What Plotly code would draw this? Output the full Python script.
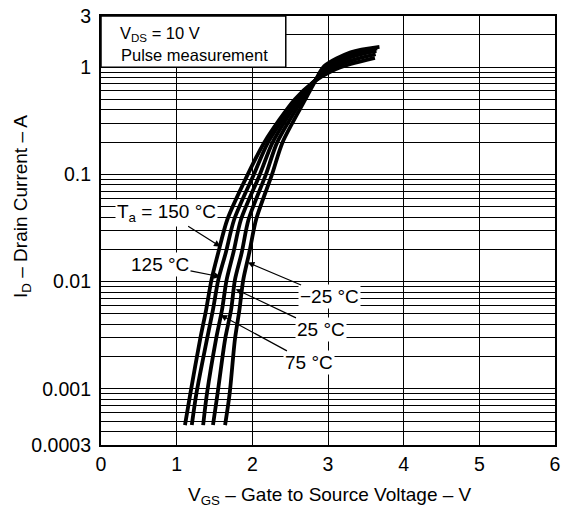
import math
import plotly.graph_objects as go

# ---- data ----
temps = ["150 °C", "125 °C", "75 °C", "25 °C", "−25 °C"]

id_levels = [0.00046, 0.0009, 0.0029, 0.0055, 0.0104, 0.0187, 0.038, 0.1, 0.2, 0.5]

vgs_150 = [1.11, 1.18, 1.31, 1.39, 1.46, 1.55, 1.67, 1.94, 2.16, 2.56, 2.80, 3.05, 3.30, 3.62]
id_150 = id_levels + [0.72, 0.92, 1.07, 1.22]

vgs_125 = [1.20, 1.26, 1.40, 1.48, 1.55, 1.65, 1.76, 2.02, 2.21, 2.59, 2.80, 3.03, 3.30, 3.63]
id_125 = id_levels + [0.72, 0.95, 1.15, 1.32]

vgs_75 = [1.35, 1.40, 1.52, 1.60, 1.66, 1.75, 1.85, 2.10, 2.27, 2.62, 2.81, 3.00, 3.30, 3.64]
id_75 = id_levels + [0.72, 0.98, 1.24, 1.42]

vgs_25 = [1.48, 1.54, 1.64, 1.72, 1.77, 1.86, 1.95, 2.18, 2.33, 2.66, 2.81, 2.98, 3.30, 3.65]
id_25 = id_levels + [0.72, 1.0, 1.32, 1.5]

vgs_m25 = [1.64, 1.70, 1.77, 1.83, 1.88, 1.96, 2.05, 2.26, 2.40, 2.70, 2.82, 2.95, 3.30, 3.68]
id_m25 = id_levels + [0.72, 1.02, 1.38, 1.55]

x_ticks = [0, 1, 2, 3, 4, 5, 6]
y_labels = {0.0003: "0.0003", 0.001: "0.001", 0.01: "0.01", 0.1: "0.1", 1: "1", 3: "3"}
y_grid = ([m * 1e-4 for m in range(3, 10)] + [m * 1e-3 for m in range(1, 10)]
          + [m * 1e-2 for m in range(1, 10)] + [m * 1e-1 for m in range(1, 10)] + [1, 2, 3])

# label text, text position (V, A), arrow tip (V, A)
labels = [
    ("T<sub>a</sub> = 150 °C", (0.87, 0.044), (1.58, 0.0212)),
    ("125 °C", (0.78, 0.0144), (1.58, 0.0111)),
    ("−25 °C", (3.02, 0.0072), (1.94, 0.0151)),
    ("25 °C", (2.91, 0.00355), (1.78, 0.0085)),
    ("75 °C", (2.75, 0.00175), (1.58, 0.0049)),
]

FONT = "Liberation Sans, Arial, sans-serif"

fig = go.Figure()
for name, xs, ys in zip(temps,
                        [vgs_150, vgs_125, vgs_75, vgs_25, vgs_m25],
                        [id_150, id_125, id_75, id_25, id_m25]):
    fig.add_trace(go.Scatter(x=xs, y=ys, mode="lines", name=name,
                             line=dict(color="black", width=3.8, shape="spline", smoothing=0.8)))

tickvals = y_grid
ticktext = []
for v in y_grid:
    t = ""
    for k, s in y_labels.items():
        if abs(math.log10(v) - math.log10(k)) < 1e-6:
            t = s
    ticktext.append(t)

fig.update_layout(
    width=565, height=517,
    margin=dict(l=101, r=10, t=16, b=72),
    paper_bgcolor="white", plot_bgcolor="white",
    showlegend=False,
    font=dict(family=FONT, color="black", size=18),
    xaxis=dict(range=[0, 6], tickvals=x_ticks, ticktext=[str(v) for v in x_ticks],
               showgrid=True, gridcolor="black", gridwidth=1.3, zeroline=False,
               showline=True, linecolor="black", linewidth=2.2, mirror=True, automargin=False,
               ticks="", ticklabeloverflow="allow",
               tickfont=dict(size=19.5, family=FONT, color="black")),
    yaxis=dict(type="log", range=[math.log10(0.0003), math.log10(3)],
               tickvals=tickvals, ticktext=ticktext, automargin=False,
               showgrid=True, gridcolor="black", gridwidth=1.2, zeroline=False,
               showline=True, linecolor="black", linewidth=2.2, mirror=True,
               ticks="", ticklabeloverflow="allow", ticklabelstandoff=4,
               tickfont=dict(size=19.5, family=FONT, color="black")),
)

# condition box (top-left)
fig.add_shape(type="rect", xref="paper", yref="paper", x0=0, x1=0.407, y0=0.8808, y1=1,
              fillcolor="white", line=dict(color="black", width=1.5), layer="above")
fig.add_annotation(xref="paper", yref="paper", x=0.037, y=0.958, xanchor="left", yanchor="middle",
                   text="V<sub>DS</sub> = 10 V", showarrow=False, font=dict(size=16.5, family=FONT))
fig.add_annotation(xref="paper", yref="paper", x=0.04, y=0.908, xanchor="left", yanchor="middle",
                   text="Pulse measurement", showarrow=False, font=dict(size=16.5, family=FONT))

for text, (tx, ty), (px, py) in labels:
    fig.add_annotation(x=px, y=math.log10(py), ax=tx, ay=math.log10(ty), axref="x", ayref="y",
                       xref="x", yref="y", text=text, showarrow=True,
                       arrowhead=2, arrowsize=1.1, arrowwidth=1.2, arrowcolor="black",
                       bgcolor="white", borderpad=1,
                       font=dict(size=19, family=FONT, color="black"))

# axis titles
fig.add_annotation(xref="paper", yref="paper", x=0.504, y=-0.119, xanchor="center", yanchor="middle",
                   text="V<sub>GS</sub> – Gate to Source Voltage – V", showarrow=False,
                   font=dict(size=19, family=FONT))
fig.add_annotation(xref="paper", yref="paper", x=-0.174, y=0.555, xanchor="center", yanchor="middle",
                   text="I<sub>D</sub> – Drain Current – A", showarrow=False, textangle=-90,
                   font=dict(size=19, family=FONT))

fig.write_html("out.html", config={"displayModeBar": False},
               post_script="document.body.style.margin='0';document.body.style.overflow='hidden';")
